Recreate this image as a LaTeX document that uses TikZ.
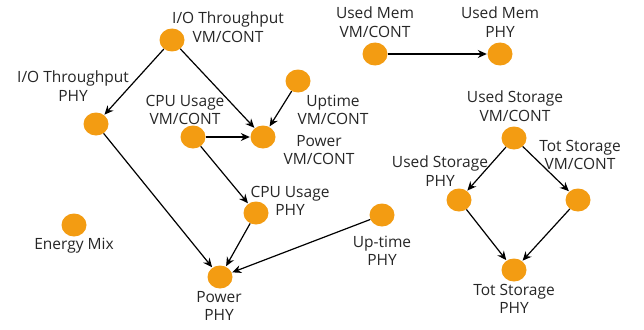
\documentclass[tikz,border=0pt]{standalone}
\usepackage{fontspec}
\setmainfont{Open Sans}
\usetikzlibrary{arrows.meta}
\definecolor{dot}{HTML}{F39C12}
\tikzset{
  pt/.style={ellipse, fill=dot, minimum width=25pt, minimum height=23pt, inner sep=0pt},
  lab/.style={align=center, font=\fontsize{15.5}{18.5}\selectfont, text=black!85, inner sep=0pt},
  edge/.style={draw=black, line width=1.2pt, -{Stealth[length=9pt,width=8pt]}, shorten >=0.5pt}
}
\usetikzlibrary{shapes.geometric}
\begin{document}
\begin{tikzpicture}[x=1pt,y=-1pt]
\useasboundingbox (0,0) rectangle (644,329);
% nodes
\node[pt] (iovm) at (172,40) {};
\node[pt] (iophy) at (96,124) {};
\node[pt] (upvm) at (298,81) {};
\node[pt] (cpuvm) at (193,137) {};
\node[pt] (pwvm) at (263,137) {};
\node[pt] (cpuphy) at (256,213) {};
\node[pt] (emix) at (74,225) {};
\node[pt] (pwphy) at (220,277) {};
\node[pt] (upphy) at (382,215) {};
\node[pt] (memvm) at (375,54) {};
\node[pt] (memphy) at (500,54) {};
\node[pt] (stvm) at (514,138) {};
\node[pt] (stphy) at (459,200) {};
\node[pt] (totvm) at (578,200) {};
\node[pt] (totphy) at (514,270) {};
% labels
\node[lab] (liovm) at (228,27) {I/O Throughput\\VM/CONT};
\node[lab] (liophy) at (73,86) {I/O Throughput\\PHY};
\node[lab] (lupvm) at (333,110) {Uptime\\VM/CONT};
\node[lab] (lcpuvm) at (185,110) {CPU Usage\\VM/CONT};
\node[lab] (lpwvm) at (319,150) {Power\\VM/CONT};
\node[lab] (lcpuphy) at (290,201) {CPU Usage\\PHY};
\node[lab] (lemix) at (74,246) {Energy Mix};
\node[lab] (lpwphy) at (219,306) {Power\\PHY};
\node[lab] (lupphy) at (382,251) {Up-time\\PHY};
\node[lab] (lmemvm) at (375,22) {Used Mem\\VM/CONT};
\node[lab] (lmemphy) at (500,22) {Used Mem\\PHY};
\node[lab] (lstvm) at (515,106) {Used Storage\\VM/CONT};
\node[lab] (lstphy) at (440,171) {Used Storage\\PHY};
\node[lab] (ltotvm) at (580,155) {Tot Storage\\VM/CONT};
\node[lab] (ltotphy) at (514,299) {Tot Storage\\PHY};
% edges
\draw[edge] (iovm) -- (iophy);
\draw[edge] (iovm) -- (pwvm);
\draw[edge] (upvm) -- (pwvm);
\draw[edge] (cpuvm) -- (pwvm);
\draw[edge] (cpuvm) -- (cpuphy);
\draw[edge] (iophy) -- (pwphy);
\draw[edge] (cpuphy) -- (pwphy);
\draw[edge] (upphy) -- (pwphy);
\draw[edge] (memvm) -- (memphy);
\draw[edge] (stvm) -- (stphy);
\draw[edge] (stvm) -- (totvm);
\draw[edge] (stphy) -- (totphy);
\draw[edge] (totvm) -- (totphy);
\end{tikzpicture}
\end{document}
